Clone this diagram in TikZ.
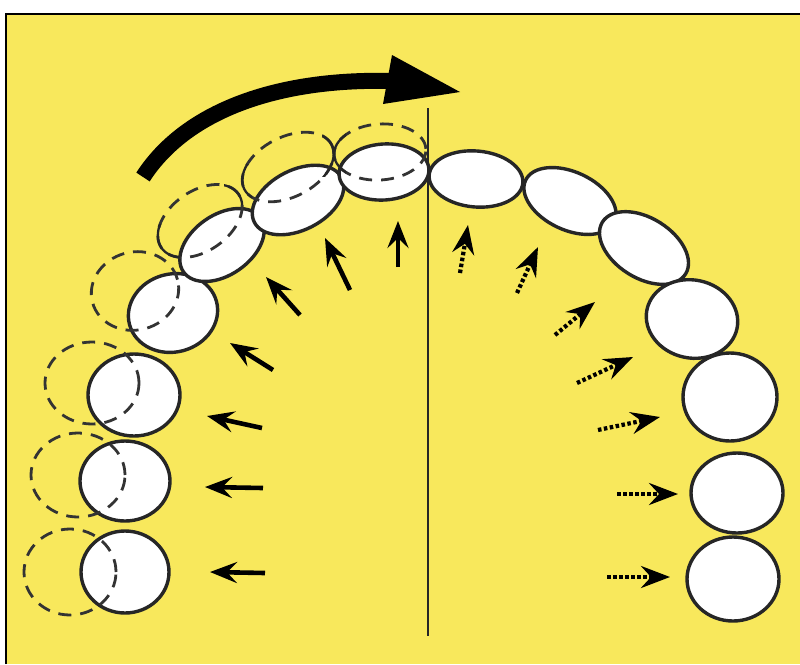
\documentclass[tikz,border=0pt]{standalone}
\usetikzlibrary{arrows.meta,shapes.geometric}
\definecolor{paper}{RGB}{248,232,92}
\tikzset{
  tooth/.style={draw=black!85, fill=white, ellipse, line width=3.4pt,
    inner sep=0pt, outer sep=0pt},
  ghost/.style={draw=black!80, ellipse, line width=2.8pt, inner sep=0pt,
    outer sep=0pt, dash pattern=on 13pt off 9pt},
  ghostsolid/.style={draw=black!85, ellipse, line width=2.3pt, inner sep=0pt,
    outer sep=0pt},
  pushin/.style={line width=4.6pt, -{Stealth[length=27pt,width=21pt,inset=10pt]}},
  pushout/.style={line width=4.2pt, dash pattern=on 3.5pt off 2.5pt,
    -{Stealth[length=29pt,width=22pt,inset=10pt]}},
}
% oval helper: style, name, centre x, centre y, width, height, rotation
\newcommand{\ovalnode}[7]{%
  \node[#1, minimum width=#5pt, minimum height=#6pt, rotate=#7] (#2) at (#3,#4) {};}
\begin{document}
\begin{tikzpicture}[x=1pt,y=-1pt]
\useasboundingbox (0,0) rectangle (800,664);
% page and framed panel
\fill[white] (0,0) rectangle (800,664);
\fill[paper] (6,14) rectangle (800,664);
\draw[line width=1.8pt] (6,664) -- (6,14) -- (800,14);

% midline
\coordinate (midtop) at (428,108);
\coordinate (midbot) at (428,636);
\draw[line width=2.7pt, black!85] (midtop) -- (midbot);

% teeth, left half
\ovalnode{tooth}{L1}{125}{572}{88}{82}{0}
\ovalnode{tooth}{L2}{125}{481}{90}{80}{0}
\ovalnode{tooth}{L3}{134}{395}{92}{82}{0}
\ovalnode{tooth}{L4}{173}{313}{90}{78}{15}
\ovalnode{tooth}{L5}{222}{245}{94}{60}{35}
\ovalnode{tooth}{L6}{298}{200}{98}{60}{27}
\ovalnode{tooth}{L7}{384}{172}{90}{56}{4}
% teeth, right half
\ovalnode{tooth}{R7}{476}{179}{94}{56}{-5}
\ovalnode{tooth}{R6}{570}{201}{98}{58}{-25}
\ovalnode{tooth}{R5}{644}{248}{98}{60}{-32}
\ovalnode{tooth}{R4}{692}{319}{92}{78}{-12}
\ovalnode{tooth}{R3}{730}{397}{94}{88}{0}
\ovalnode{tooth}{R2}{737}{493}{92}{80}{0}
\ovalnode{tooth}{R1}{733}{579}{92}{84}{0}

% displaced outlines of the left half
\ovalnode{ghost}{D1}{70}{572}{92}{86}{0}
\ovalnode{ghost}{D2}{78}{475}{94}{84}{0}
\ovalnode{ghost}{D3}{92}{383}{94}{82}{0}
\ovalnode{ghost}{D4}{135}{291}{88}{78}{15}
\ovalnode{ghost}{D5}{200}{221}{94}{60}{35}
\ovalnode{ghost}{D6}{288}{167}{98}{60}{27}
\ovalnode{ghost}{D7}{380}{152}{92}{56}{4}

% solid contact arcs where the displaced outlines meet
\begin{scope}
  \clip (322,124) rectangle (346,176);
  \ovalnode{ghostsolid}{C7}{380}{152}{92}{56}{4}
  \ovalnode{ghostsolid}{C6}{288}{167}{98}{60}{27}
\end{scope}
\begin{scope}
  \clip (224,164) rectangle (252,204);
  \ovalnode{ghostsolid}{C6b}{288}{167}{98}{60}{27}
  \ovalnode{ghostsolid}{C5}{200}{221}{94}{60}{35}
\end{scope}
\begin{scope}
  \clip (150,224) rectangle (180,264);
  \ovalnode{ghostsolid}{C5b}{200}{221}{94}{60}{35}
\end{scope}

% rotation arrow
\coordinate (rtail) at (143,177);
\coordinate (rend) at (392,81);
\draw[line width=16pt] (rtail) .. controls (185,112) and (275,78) .. (rend);
\coordinate (htop) at (392,55);
\coordinate (htip) at (460,92);
\coordinate (hbot) at (383,104);
\fill (htop) -- (htip) -- (hbot) -- cycle;

% forces on the left half
\foreach \tx/\ty/\hx/\hy in {265/573/210/572, 263/488/205/487, 262/428/207/416,
    273/370/230/343, 300/315/266/277, 350/290/325/238, 398/267/398/221}
  \draw[pushin] (\tx,\ty) -- (\hx,\hy);

% forces on the right half
\foreach \tx/\ty/\hx/\hy in {460/273/468/225, 517/293/538/247, 555/335/595/302,
    577/383/633/357, 598/430/660/417, 617/494/678/494, 607/577/670/577}
  \draw[pushout] (\tx,\ty) -- (\hx,\hy);
\end{tikzpicture}
\end{document}
